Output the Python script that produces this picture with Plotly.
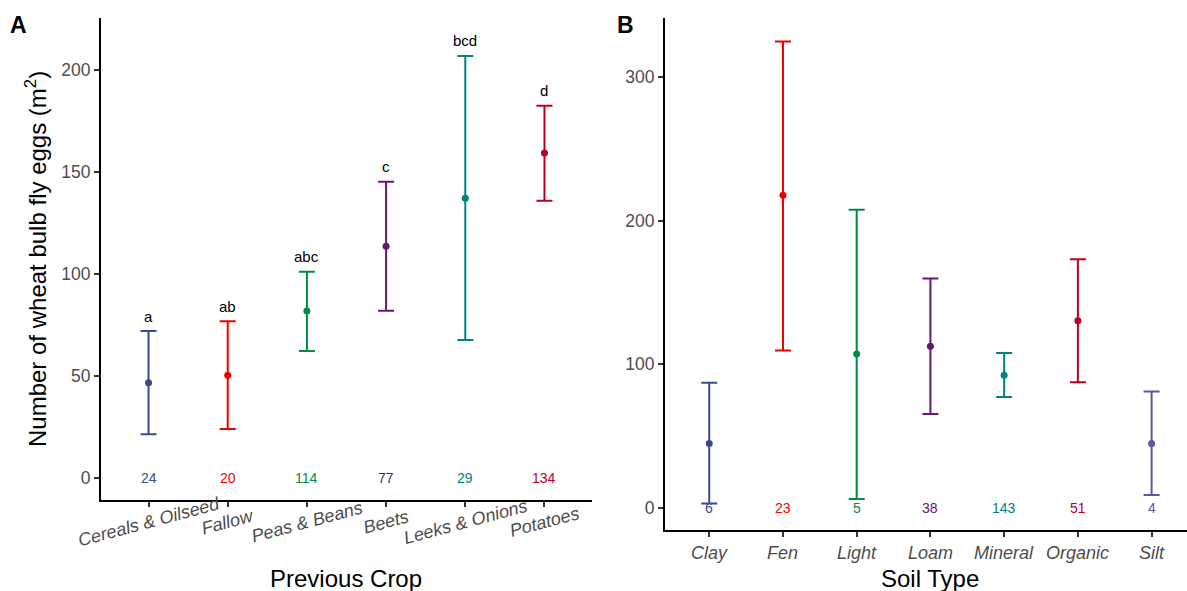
import plotly.graph_objects as go

# ---------------- data ----------------
crops = ["Cereals & Oilseed", "Fallow", "Peas & Beans", "Beets", "Leeks & Onions", "Potatoes"]
crop_mean = [46.7, 50.3, 81.9, 113.6, 137.1, 159.3]
crop_lower = [21.4, 24.0, 62.3, 82.0, 67.6, 135.9]
crop_upper = [72.0, 76.8, 101.1, 145.2, 206.9, 182.5]
crop_letters = ["a", "ab", "abc", "c", "bcd", "d"]
crop_n = [24, 20, 114, 77, 29, 134]
crop_colors = ["#3B4992", "#EE0000", "#008B45", "#631879", "#008280", "#BB0021"]

soils = ["Clay", "Fen", "Light", "Loam", "Mineral", "Organic", "Silt"]
soil_mean = [44.9, 217.6, 107.2, 112.5, 92.4, 130.3, 44.9]
soil_lower = [3.2, 109.7, 6.3, 65.5, 77.3, 87.5, 9.0]
soil_upper = [87.2, 324.7, 207.6, 159.7, 107.8, 173.1, 81.0]
soil_n = [6, 23, 5, 38, 143, 51, 4]
soil_colors = ["#3B4992", "#EE0000", "#008B45", "#631879", "#008280", "#BB0021", "#5F559B"]

FONT = "Liberation Sans, Arial, sans-serif"
TICKGRAY = "#4D4D4D"
W, H = 1187, 591

fig = go.Figure()

# ---------------- panel A ----------------
for i, c in enumerate(crops):
    fig.add_trace(go.Scatter(
        x=[i], y=[crop_mean[i]], mode="markers",
        marker=dict(color=crop_colors[i], size=7),
        error_y=dict(type="data", symmetric=False,
                     array=[crop_upper[i] - crop_mean[i]],
                     arrayminus=[crop_mean[i] - crop_lower[i]],
                     color=crop_colors[i], thickness=2, width=8),
        xaxis="x", yaxis="y", showlegend=False))

# ---------------- panel B ----------------
for i, s in enumerate(soils):
    fig.add_trace(go.Scatter(
        x=[i], y=[soil_mean[i]], mode="markers",
        marker=dict(color=soil_colors[i], size=7),
        error_y=dict(type="data", symmetric=False,
                     array=[soil_upper[i] - soil_mean[i]],
                     arrayminus=[soil_mean[i] - soil_lower[i]],
                     color=soil_colors[i], thickness=2, width=8),
        xaxis="x2", yaxis="y2", showlegend=False))

ann = []
# letters, counts and tick labels panel A
for i, c in enumerate(crops):
    ann.append(dict(x=i, y=crop_upper[i], xref="x", yref="y", text=crop_letters[i],
                    showarrow=False, yanchor="middle", yshift=15,
                    font=dict(family=FONT, size=15, color="black")))
    ann.append(dict(x=i, y=0, xref="x", yref="y", text=str(crop_n[i]),
                    showarrow=False, yanchor="middle",
                    font=dict(family=FONT, size=14, color=crop_colors[i])))
    ann.append(dict(x=i, y=1 - 522 / H, xref="x", yref="paper", text=c,
                    showarrow=False, textangle=-15, xanchor="center", yanchor="middle",
                    font=dict(family=FONT, size=18, color=TICKGRAY, style="italic")))

# counts and tick labels panel B
for i, s in enumerate(soils):
    ann.append(dict(x=i, y=0, xref="x2", yref="y2", text=str(soil_n[i]),
                    showarrow=False, yanchor="middle",
                    font=dict(family=FONT, size=14, color=soil_colors[i])))
    ann.append(dict(x=i, y=1 - 553 / H, xref="x2", yref="paper", text=s,
                    showarrow=False, xanchor="center", yanchor="middle",
                    font=dict(family=FONT, size=18, color=TICKGRAY, style="italic")))

# titles and panel letters
ann += [
    dict(x=346 / W, y=1 - 578 / H, xref="paper", yref="paper", text="Previous Crop",
         showarrow=False, xanchor="center", yanchor="middle",
         font=dict(family=FONT, size=24, color="black")),
    dict(x=930 / W, y=1 - 578 / H, xref="paper", yref="paper", text="Soil Type",
         showarrow=False, xanchor="center", yanchor="middle",
         font=dict(family=FONT, size=24, color="black")),
    dict(x=36 / W, y=1 - 259 / H, xref="paper", yref="paper",
         text="Number of wheat bulb fly eggs (m<sup>2</sup>)", textangle=-90,
         showarrow=False, xanchor="center", yanchor="middle",
         font=dict(family=FONT, size=24, color="black")),
    dict(x=19 / W, y=1 - 25 / H, xref="paper", yref="paper", text="<b>A</b>",
         showarrow=False, xanchor="center", yanchor="middle",
         font=dict(family=FONT, size=23, color="black")),
    dict(x=625 / W, y=1 - 25 / H, xref="paper", yref="paper", text="<b>B</b>",
         showarrow=False, xanchor="center", yanchor="middle",
         font=dict(family=FONT, size=23, color="black")),
]

axis_common = dict(showgrid=False, zeroline=False, showline=True, linecolor="black",
                   linewidth=2, ticks="outside", ticklen=5, tickwidth=1.5,
                   tickcolor="#333333", fixedrange=True)

fig.update_layout(
    width=W, height=H,
    margin=dict(l=0, r=0, t=0, b=0),
    paper_bgcolor="white", plot_bgcolor="white",
    font=dict(family=FONT),
    xaxis=dict(domain=[101 / W, 592 / W], range=[-0.6, 5.6],
               tickmode="array", tickvals=list(range(len(crops))),
               showticklabels=False, anchor="y", **axis_common),
    yaxis=dict(domain=[1 - 500 / H, 1 - 18 / H], range=[-10.8, 225.5],
               tickmode="array", tickvals=[0, 50, 100, 150, 200],
               tickfont=dict(family=FONT, size=17.5, color=TICKGRAY),
               anchor="x", **axis_common),
    xaxis2=dict(domain=[665 / W, 1.0], range=[-0.6, 6.48],
                tickmode="array", tickvals=list(range(len(soils))),
                showticklabels=False, anchor="y2", **axis_common),
    yaxis2=dict(domain=[1 - 530 / H, 1 - 18 / H], range=[-15.3, 341],
                tickmode="array", tickvals=[0, 100, 200, 300],
                tickfont=dict(family=FONT, size=17.5, color=TICKGRAY),
                anchor="x2", **axis_common),
    annotations=ann,
)

fig.write_html("out.html", config={"displayModeBar": False},
               post_script="document.body.style.margin='0px';document.body.style.overflow='hidden';")
